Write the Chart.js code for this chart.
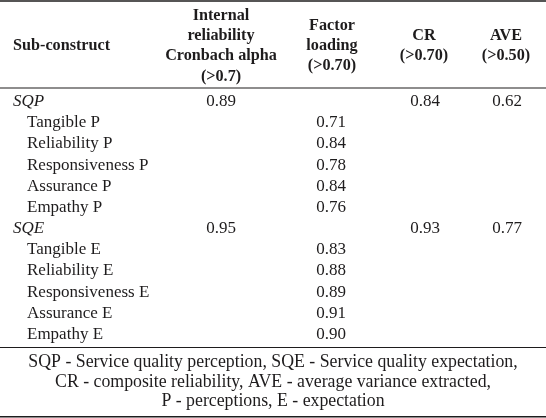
<!DOCTYPE html>
<html>
<head>
<meta charset="utf-8">
<script src="https://cdn.jsdelivr.net/npm/chart.js@4/dist/chart.umd.min.js"></script>
<style>
html,body{margin:0;padding:0;background:#fff;}
#wrap{width:546px;height:418px;position:relative;}
</style>
</head>
<body>
<div id="wrap"><canvas id="c"></canvas></div>
<script>
// ---- data ----
const rows = ['SQP','Tangible P','Reliability P','Responsiveness P','Assurance P','Empathy P',
              'SQE','Tangible E','Reliability E','Responsiveness E','Assurance E','Empathy E'];
const groupRows = ['SQP','SQE'];
const cronbachAlpha = [0.89,null,null,null,null,null,0.95,null,null,null,null,null];
const factorLoading = [null,0.71,0.84,0.78,0.84,0.76,null,0.83,0.88,0.89,0.91,0.90];
const compositeReliability = [0.84,null,null,null,null,null,0.93,null,null,null,null,null];
const averageVariance = [0.62,null,null,null,null,null,0.77,null,null,null,null,null];
const headerLabels = [
  ['Sub-construct'],
  ['Internal','reliability','Cronbach alpha','(>0.7)'],
  ['Factor','loading','(>0.70)'],
  ['CR','(>0.70)'],
  ['AVE','(>0.50)']
];
const footnoteLines = [
  'SQP - Service quality perception, SQE - Service quality expectation,',
  'CR - composite reliability, AVE - average variance extracted,',
  'P - perceptions, E - expectation'
];

// ---- layout (positions on the x scale, 0..546) ----
const HEADER_X = [13, 221, 332, 424, 506];
const VALUE_X = [null, 221, 331, 425, 507];
const GROUP_X = 13, ITEM_X = 27;
const FONT = '"Liberation Serif", "Times New Roman", serif';
const INK = '#1e1c1d';

const valueCols = [cronbachAlpha, factorLoading, compositeReliability, averageVariance];
const datasets = valueCols.map((arr, c) => ({
  label: headerLabels[c+1].join(' '),
  data: arr.map((v, i) => v === null ? null : {x: VALUE_X[c+1], y: i, v: v}).filter(p => p),
  pointRadius: 0, pointHoverRadius: 0, showLine: false
}));

const tablePlugin = {
  id: 'tableText',
  afterDatasetsDraw(chart) {
    const ctx = chart.ctx, xs = chart.scales.x, ys = chart.scales.y;
    const W = chart.width;
    ctx.save();
    ctx.fillStyle = INK; ctx.strokeStyle = INK;
    // rules
    const rule = (y, w) => { ctx.lineWidth = w; ctx.beginPath(); ctx.moveTo(0, y); ctx.lineTo(W, y); ctx.stroke(); };
    rule(1, 1.5);
    rule(88, 1.2);
    rule(347.5, 1.2);
    rule(416.8, 1.5);
    // header
    ctx.textBaseline = 'middle';
    ctx.font = 'bold 16.2px ' + FONT;
    const headMid = 46, headLH = 20.3;
    headerLabels.forEach((lines, c) => {
      ctx.textAlign = c === 0 ? 'left' : 'center';
      const x = xs.getPixelForValue(HEADER_X[c]);
      const y0 = headMid - (lines.length - 1) * headLH / 2;
      lines.forEach((t, k) => ctx.fillText(t, x, y0 + k * headLH));
    });
    // row labels
    ctx.textAlign = 'left';
    rows.forEach((r, i) => {
      const isGroup = groupRows.includes(r);
      ctx.font = (isGroup ? 'italic ' : '') + '17px ' + FONT;
      ctx.fillText(r, xs.getPixelForValue(isGroup ? GROUP_X : ITEM_X), ys.getPixelForValue(i));
    });
    // values
    ctx.font = '17px ' + FONT;
    ctx.textAlign = 'center';
    chart.data.datasets.forEach((ds, d) => {
      const meta = chart.getDatasetMeta(d);
      meta.data.forEach((pt, j) => ctx.fillText(ds.data[j].v.toFixed(2), pt.x, pt.y));
    });
    // footnote
    ctx.font = '17.8px ' + FONT;
    ctx.textAlign = 'center';
    const fy0 = 362.5, fLH = 19.5;
    footnoteLines.forEach((t, k) => ctx.fillText(t, W / 2, fy0 + k * fLH));
    ctx.restore();
  }
};

new Chart(document.getElementById('c'), {
  type: 'scatter',
  data: { datasets },
  options: {
    responsive: true, maintainAspectRatio: false, animation: false,
    layout: { padding: { top: 91, bottom: 73, left: 0, right: 0 } },
    plugins: { legend: { display: false }, tooltip: { enabled: false } },
    events: [],
    scales: {
      x: { type: 'linear', min: 0, max: 546, display: false },
      y: { type: 'linear', min: -0.5, max: rows.length - 0.5, reverse: true, display: false }
    }
  },
  plugins: [tablePlugin]
});
</script>
</body>
</html>
